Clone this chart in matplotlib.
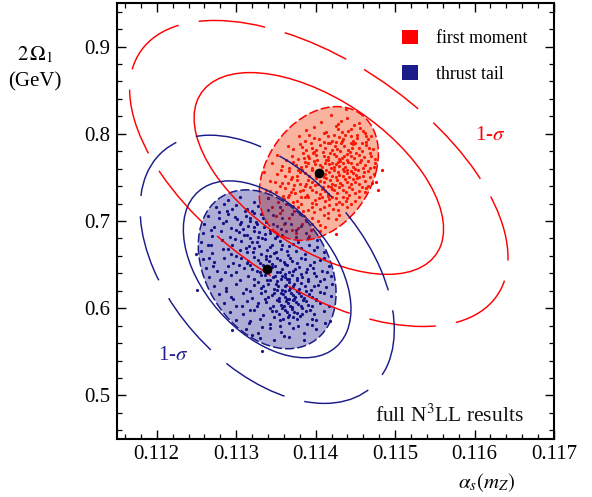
import numpy as np
import matplotlib
matplotlib.use('Agg')
import matplotlib.pyplot as plt
from matplotlib.patches import Ellipse, Patch
from matplotlib.ticker import MultipleLocator, FormatStrFormatter

plt.rcParams['font.family'] = ['Liberation Serif', 'DejaVu Serif']
plt.rcParams['mathtext.fontset'] = 'stix'

# ---------------- data ----------------
series_labels = ['first moment', 'thrust tail']
red_center = (0.11404, 0.7545)       # best fit (alpha_s, 2 Omega_1)
red_sigma = (0.00157, 0.1157)        # combined 1-sigma
red_rho = -0.55
red_theory_sigma = (0.00075, 0.0767) # theory (scan) ellipse
red_theory_rho = 0.30

blue_center = (0.11339, 0.6446)
blue_sigma = (0.001055, 0.1014)
blue_rho = -0.45
blue_theory_sigma = (0.000867, 0.0911)
blue_theory_rho = -0.30

dchi2_levels = [1.0, 2.3]

red_points = [
    (.11438,.829),(.11419,.821),
    (.11407,.814),(.11440,.818),(.11428,.811),(.11455,.812),
    (.11444,.806),(.11456,.807),(.11425,.809),(.11433,.802),(.11410,.801),(.11388,.804),(.11462,.801),(.11398,.808),
    (.11398,.795),(.11423,.799),(.11452,.799),(.11466,.794),(.11444,.797),(.11433,.792),(.11379,.797),(.11411,.791),
    (.11458,.790),(.11387,.792),(.11429,.796),(.11470,.798),
    (.11365,.786),(.11380,.788),(.11395,.784),(.11405,.787),(.11418,.789),(.11427,.783),(.11436,.786),(.11447,.788),
    (.11455,.784),(.11463,.787),(.11472,.782),(.11441,.781),(.11420,.781),(.11388,.781),(.11449,.789),(.11432,.789),
    (.11352,.776),(.11370,.774),(.11384,.778),(.11392,.772),(.11401,.776),(.11409,.779),(.11416,.773),(.11423,.777),
    (.11429,.771),(.11436,.775),(.11443,.779),(.11448,.772),(.11454,.776),(.11461,.773),(.11468,.778),(.11475,.771),
    (.11413,.770),(.11440,.770),(.11398,.779),(.11378,.771),
    (.11345,.766),(.11358,.763),(.11372,.768),(.11381,.762),(.11390,.766),(.11398,.769),(.11405,.764),(.11412,.767),
    (.11419,.761),(.11425,.765),(.11431,.769),(.11437,.762),(.11444,.766),(.11450,.760),(.11456,.768),(.11462,.764),
    (.11469,.761),(.11475,.766),(.11415,.770),(.11435,.760),(.11395,.761),(.11428,.768),
    (.11335,.756),(.11352,.754),(.11366,.757),(.11376,.752),(.11387,.755),(.11396,.758),(.11410,.751),(.11417,.756),
    (.11423,.759),(.11430,.753),(.11436,.757),(.11442,.750),(.11447,.755),(.11453,.759),(.11459,.752),(.11466,.757),
    (.11473,.754),(.11413,.759),(.11383,.759),(.11426,.750),(.11401,.752),(.11440,.759),
    (.11342,.746),(.11358,.744),(.11369,.748),(.11380,.743),(.11391,.747),(.11399,.741),(.11406,.746),(.11413,.749),
    (.11420,.743),(.11427,.747),(.11433,.741),(.11440,.745),(.11447,.748),(.11455,.742),(.11462,.746),(.11386,.740),
    (.11373,.741),(.11416,.740),(.11452,.749),(.11400,.749),
    (.11337,.736),(.11350,.733),(.11362,.738),(.11374,.732),(.11384,.736),(.11393,.739),(.11401,.733),(.11408,.737),
    (.11415,.731),(.11423,.735),(.11430,.739),(.11438,.733),(.11446,.737),(.11455,.734),(.11389,.730),(.11367,.730),
    (.11419,.739),(.11463,.738),
    (.11340,.726),(.11353,.722),(.11365,.727),(.11376,.723),(.11386,.728),(.11395,.721),(.11404,.726),(.11412,.723),
    (.11421,.728),(.11430,.722),(.11440,.726),(.11450,.723),(.11382,.720),(.11415,.729),
    (.11345,.716),(.11358,.713),(.11372,.717),(.11384,.712),(.11395,.716),(.11405,.714),(.11417,.718),(.11428,.713),
    (.11440,.716),(.11363,.719),
    (.11350,.706),(.11366,.703),(.11380,.708),(.11395,.704),(.11410,.707),(.11425,.702),(.11388,.700),
    (.11360,.696),(.11378,.692),(.11395,.697),(.11412,.693),(.11370,.690),
    (.11375,.686),(.11392,.683),(.11405,.688),
    (.11483,.758),(.11476,.745),(.11425,.685),(.11478,.735),
    (.11441,.803),(.11452,.795),(.11447,.792),(.11437,.799),(.11459,.803),(.11463,.791),(.11428,.805),(.11415,.797),
    (.11404,.794),(.11392,.799),(.11420,.792),(.11446,.784),(.11458,.780),(.11451,.778),(.11439,.777),(.11431,.780),
    (.11424,.786),(.11412,.784),(.11401,.781),(.11394,.789),(.11383,.785),(.11372,.782),(.11410,.775),(.11418,.778),
    (.11426,.774),(.11433,.772),(.11445,.775),(.11457,.770),(.11466,.769),(.11470,.775),(.11402,.770),(.11391,.775),
    (.11386,.768),(.11375,.764),(.11363,.770),(.11408,.762),(.11421,.767),(.11430,.763),(.11441,.768),(.11452,.765),
    (.11459,.761),(.11447,.762),(.11434,.766),(.11423,.762),(.11417,.765),(.11399,.765),(.11388,.763),(.11378,.759),
    (.11366,.761),(.11357,.758),(.11404,.757),(.11412,.754),(.11420,.752),(.11428,.756),(.11434,.752),(.11445,.757),
    (.11451,.753),(.11461,.756),(.11468,.750),(.11439,.755),(.11392,.752),(.11380,.756),(.11370,.751),(.11395,.745),
    (.11403,.743),(.11410,.745),(.11418,.747),(.11424,.741),(.11431,.744),(.11437,.748),(.11444,.742),(.11450,.745),
    (.11458,.739),(.11388,.743),(.11377,.747),(.11365,.744),(.11355,.740),(.11396,.735),(.11405,.731),(.11412,.734),
    (.11420,.737),(.11427,.732),(.11434,.736),(.11442,.730),(.11450,.732),(.11380,.734),(.11371,.737),(.11359,.729),
    (.11390,.727),(.11399,.724),(.11408,.728),(.11417,.725),(.11425,.719),(.11434,.727),(.11444,.720),(.11371,.722),
    (.11360,.725),(.11378,.716),(.11391,.713),(.11401,.719),(.11411,.716),(.11422,.714),(.11433,.719),(.11385,.706),
    (.11398,.710),(.11373,.711),(.11355,.709),(.11415,.703),(.11403,.700),(.11383,.696),(.11426,.791),(.11435,.794),
    (.11444,.790),(.11413,.802),(.11432,.815),(.11448,.810),(.11463,.797),(.11467,.784),(.11474,.762),(.11471,.744),
    (.11416,.789),(.11397,.778),(.11385,.772),(.11362,.752),(.11349,.745),(.11343,.734),(.11369,.733),(.11381,.727),
    (.11409,.739),(.11454,.728),(.11462,.733),(.11466,.740),(.11455,.750),(.11442,.739),(.11426,.726),(.11438,.723),
    (.11415,.709),(.11429,.707),(.11394,.690),(.11405,.695),
]

blue_points = [
    (.11290,.724),(.11305,.728),(.11322,.722),(.11340,.726),
    (.11275,.716),(.11288,.712),(.11300,.718),(.11313,.714),(.11327,.717),(.11340,.713),(.11355,.716),(.11320,.711),
    (.11265,.706),(.11278,.703),(.11290,.708),(.11301,.702),(.11312,.706),(.11323,.709),(.11334,.703),(.11346,.707),
    (.11358,.704),(.11370,.708),(.11318,.700),
    (.11260,.696),(.11272,.693),(.11283,.698),(.11294,.692),(.11305,.697),(.11315,.694),(.11325,.699),(.11335,.693),
    (.11346,.696),(.11357,.691),(.11369,.697),(.11382,.694),(.11300,.690),
    (.11258,.686),(.11270,.683),(.11281,.688),(.11292,.682),(.11303,.687),(.11313,.684),(.11322,.689),(.11332,.681),
    (.11342,.686),(.11352,.683),(.11363,.688),(.11375,.682),(.11388,.686),(.11318,.680),
    (.11256,.676),(.11268,.672),(.11282,.678),(.11295,.673),(.11306,.677),(.11316,.671),(.11326,.676),(.11336,.679),
    (.11345,.673),(.11355,.677),(.11366,.671),(.11378,.676),(.11392,.673),(.11402,.678),
    (.11256,.666),(.11270,.663),(.11283,.668),(.11294,.662),(.11305,.667),(.11314,.664),(.11323,.669),(.11331,.662),
    (.11339,.667),(.11347,.663),(.11356,.668),(.11365,.661),(.11375,.666),(.11386,.662),(.11398,.667),(.11410,.664),
    (.11258,.656),(.11272,.653),(.11285,.658),(.11296,.652),(.11306,.657),(.11315,.654),(.11323,.659),(.11330,.652),
    (.11338,.656),(.11345,.651),(.11352,.658),(.11360,.653),(.11368,.657),(.11377,.652),(.11387,.656),(.11398,.653),
    (.11410,.658),(.11342,.660),
    (.11262,.646),(.11276,.643),(.11290,.648),(.11300,.642),(.11310,.646),(.11318,.649),(.11326,.643),(.11345,.647),
    (.11352,.641),(.11358,.645),(.11364,.649),(.11371,.643),(.11379,.647),(.11388,.642),(.11397,.646),(.11408,.643),
    (.11417,.648),(.11330,.641),
    (.11266,.636),(.11281,.633),(.11294,.638),(.11305,.632),(.11315,.637),(.11323,.633),(.11331,.638),(.11339,.632),
    (.11346,.636),(.11352,.631),(.11358,.637),(.11364,.633),(.11370,.638),(.11376,.632),(.11383,.636),(.11391,.631),
    (.11400,.637),(.11410,.633),(.11419,.637),(.11361,.639),
    (.11272,.626),(.11287,.623),(.11300,.628),(.11312,.622),(.11322,.627),(.11331,.623),(.11340,.628),(.11347,.622),
    (.11353,.626),(.11358,.621),(.11363,.627),(.11368,.623),(.11373,.628),(.11379,.622),(.11386,.626),(.11394,.621),
    (.11403,.627),(.11413,.624),(.11421,.628),(.11366,.630),
    (.11278,.616),(.11294,.613),(.11308,.618),(.11320,.612),(.11331,.617),(.11340,.613),(.11348,.618),(.11354,.612),
    (.11359,.616),(.11364,.611),(.11369,.617),(.11374,.613),(.11379,.618),(.11385,.612),(.11392,.616),(.11400,.611),
    (.11410,.617),(.11419,.614),(.11362,.620),(.11372,.609),
    (.11285,.606),(.11300,.603),(.11314,.608),(.11326,.602),(.11337,.607),(.11346,.603),(.11354,.608),(.11360,.602),
    (.11365,.606),(.11370,.601),(.11375,.607),(.11381,.603),(.11388,.608),(.11396,.602),(.11406,.606),(.11417,.603),
    (.11367,.610),
    (.11292,.596),(.11308,.593),(.11322,.598),(.11334,.592),(.11345,.597),(.11354,.593),(.11361,.598),(.11367,.592),
    (.11373,.596),(.11380,.591),(.11388,.597),(.11398,.593),(.11410,.597),(.11365,.590),
    (.11300,.586),(.11316,.583),(.11330,.588),(.11343,.582),(.11355,.587),(.11366,.583),(.11377,.588),(.11389,.582),
    (.11401,.586),(.11412,.583),
    (.11312,.576),(.11328,.572),(.11343,.577),(.11357,.573),(.11371,.577),(.11385,.572),(.11400,.576),
    (.11330,.566),(.11348,.563),(.11366,.567),(.11385,.564),
    (.11251,.621),(.11295,.575),(.11333,.551),(.11418,.585),(.11250,.662),
    (.11298,.705),(.11306,.699),(.11311,.712),(.11318,.704),(.11326,.697),(.11331,.708),(.11287,.700),(.11295,.714),
    (.11308,.691),(.11322,.693),(.11329,.687),(.11338,.699),(.11343,.690),(.11310,.684),(.11299,.679),(.11320,.676),
    (.11328,.682),(.11336,.685),(.11349,.680),(.11358,.684),(.11312,.669),(.11321,.664),(.11329,.671),(.11337,.660),
    (.11343,.670),(.11350,.665),(.11358,.672),(.11364,.666),(.11371,.674),(.11381,.669),(.11300,.660),(.11290,.668),
    (.11327,.655),(.11334,.649),(.11341,.654),(.11349,.648),(.11355,.655),(.11362,.651),(.11370,.654),(.11381,.658),
    (.11393,.649),(.11320,.645),(.11313,.652),(.11303,.650),(.11286,.642),(.11336,.638),(.11343,.643),(.11349,.637),
    (.11355,.642),(.11361,.636),(.11367,.641),(.11374,.645),(.11381,.639),(.11389,.645),(.11398,.640),(.11327,.630),
    (.11334,.626),(.11343,.632),(.11350,.628),(.11356,.634),(.11361,.625),(.11366,.634),(.11371,.626),(.11376,.635),
    (.11382,.629),(.11390,.633),(.11398,.625),(.11406,.631),(.11318,.620),(.11336,.620),(.11345,.615),(.11351,.621),
    (.11357,.618),(.11362,.613),(.11367,.621),(.11371,.615),(.11376,.620),(.11381,.614),(.11388,.620),(.11396,.613),
    (.11405,.619),(.11352,.609),(.11357,.604),(.11363,.608),(.11368,.603),(.11373,.611),(.11378,.605),(.11384,.609),
    (.11391,.604),(.11400,.609),(.11342,.600),(.11350,.597),(.11358,.600),(.11364,.596),(.11370,.599),(.11376,.594),
    (.11383,.600),(.11393,.598),(.11347,.590),(.11359,.588),(.11372,.590),(.11383,.593),(.11395,.588),(.11336,.611),
    (.11328,.606),(.11318,.598),(.11307,.603),(.11296,.610),(.11287,.620),(.11280,.632),(.11271,.648),(.11266,.658),
    (.11264,.672),(.11268,.690),(.11279,.710),(.11285,.719),(.11352,.694),(.11362,.698),(.11375,.690),(.11390,.680),
    (.11402,.670),(.11406,.655),(.11414,.642),(.11318,.585),(.11332,.578),(.11355,.580),(.11378,.580),(.11396,.581),
    (.11320,.569),(.11360,.568),
]

xlim = (0.1115, 0.117)
ylim = (0.45, 0.95)

RED = '#ff0000'
NAVY = '#1b1b8a'


def ellipse_geom(sigma, rho, dchi2):
    cov = np.array([[sigma[0]**2, rho*sigma[0]*sigma[1]],
                    [rho*sigma[0]*sigma[1], sigma[1]**2]])
    vals, vecs = np.linalg.eigh(cov)
    w = 2*np.sqrt(dchi2*vals[1])
    h = 2*np.sqrt(dchi2*vals[0])
    ang = np.degrees(np.arctan2(vecs[1, 1], vecs[0, 1]))
    return w, h, ang


fig = plt.figure(figsize=(5.92, 4.97), dpi=100)
ax = fig.add_axes([117/592, 1-439/497, (554-117)/592, (439-3)/497])
ax.set_xlim(*xlim)
ax.set_ylim(*ylim)

# scatter points
rp = np.array(red_points)
bp = np.array(blue_points)
ax.plot(rp[:, 0], rp[:, 1], 'o', color=RED, ms=2.3, mew=0, zorder=2)
ax.plot(bp[:, 0], bp[:, 1], 'o', color=NAVY, ms=2.3, mew=0, zorder=2)

# theory ellipses (filled)
w, h, a = ellipse_geom(red_theory_sigma, red_theory_rho, dchi2_levels[0])
ax.add_patch(Ellipse(red_center, w, h, angle=a, facecolor=(242/255, 67/255, 17/255, 0.40),
                     edgecolor='none', zorder=3))
w, h, a = ellipse_geom(blue_theory_sigma, blue_theory_rho, dchi2_levels[0])
ax.add_patch(Ellipse(blue_center, w, h, angle=a, facecolor=(0, 0, 0.5, 0.32),
                     edgecolor='none', zorder=3.1))
w, h, a = ellipse_geom(red_theory_sigma, red_theory_rho, dchi2_levels[0])
ax.add_patch(Ellipse(red_center, w, h, angle=a, fill=False, edgecolor=RED, lw=1.1,
                     linestyle=(0, (6, 2)), zorder=4))
w, h, a = ellipse_geom(blue_theory_sigma, blue_theory_rho, dchi2_levels[0])
ax.add_patch(Ellipse(blue_center, w, h, angle=a, fill=False, edgecolor=NAVY, lw=1.1,
                     linestyle=(0, (6, 2)), zorder=4))

# combined ellipses: solid (dchi2=1), long dashed (dchi2=2.3)
for center, sig, rho, col in [(red_center, red_sigma, red_rho, RED),
                              (blue_center, blue_sigma, blue_rho, NAVY)]:
    w, h, a = ellipse_geom(sig, rho, dchi2_levels[0])
    ax.add_patch(Ellipse(center, w, h, angle=a, fill=False, edgecolor=col, lw=1.05, zorder=5))
    w, h, a = ellipse_geom(sig, rho, dchi2_levels[1])
    ax.add_patch(Ellipse(center, w, h, angle=a, fill=False, edgecolor=col, lw=1.05,
                         linestyle=(0, (46, 14)), zorder=5))

# best-fit points
ax.plot([red_center[0], blue_center[0]], [red_center[1], blue_center[1]], 'o',
        color='black', ms=7, mew=0, zorder=6)

# ticks
ax.xaxis.set_major_locator(MultipleLocator(0.001))
ax.xaxis.set_minor_locator(MultipleLocator(0.0002))
ax.yaxis.set_major_locator(MultipleLocator(0.1))
ax.yaxis.set_minor_locator(MultipleLocator(0.02))
ax.xaxis.set_major_formatter(FormatStrFormatter('%.3f'))
ax.yaxis.set_major_formatter(FormatStrFormatter('%.1f'))
ax.set_xticks([0.112, 0.113, 0.114, 0.115, 0.116, 0.117])
ax.set_yticks([0.5, 0.6, 0.7, 0.8, 0.9])
ax.set_xlim(*xlim)
ax.set_ylim(*ylim)
ax.tick_params(which='both', direction='in', top=True, right=True, color='black')
ax.tick_params(which='major', length=6.5, width=1.0, labelsize=15)
ax.tick_params(which='minor', length=3.6, width=0.9)
ax.tick_params(axis='x', which='major', pad=4)
ax.tick_params(axis='y', which='major', pad=5)
for s in ax.spines.values():
    s.set_linewidth(1.5)

# texts
ax.text(0.116196, 0.798, r'1-$\sigma$', color=RED, fontsize=15, ha='center', va='center')
ax.text(0.112207, 0.546, r'1-$\sigma$', color='#23238f', fontsize=15, ha='center', va='center')
ax.text(0.11662, 0.477, r'full N$^3$LL results', color='#111111', fontsize=15.5,
        ha='right', va='center')

handles = [Patch(facecolor=RED, edgecolor='none'), Patch(facecolor=NAVY, edgecolor='none')]
ax.legend(handles, series_labels, loc='upper left', bbox_to_anchor=(0.652, 0.939),
          frameon=False, fontsize=12.8, handlelength=0.9, handleheight=0.9,
          handletextpad=1.0, labelspacing=1.02, borderpad=0, borderaxespad=0)

fig.text(35/592, 1-55/497, r'$2\,\Omega_1$', fontsize=15, ha='center', va='center')
fig.text(35/592, 1-82/497, '(GeV)', fontsize=15, ha='center', va='center')
fig.text(487/592, 1-483/497, r'$\alpha_s(m_Z)$', fontsize=15, ha='center', va='center')

fig.savefig('out.png', dpi=100)
